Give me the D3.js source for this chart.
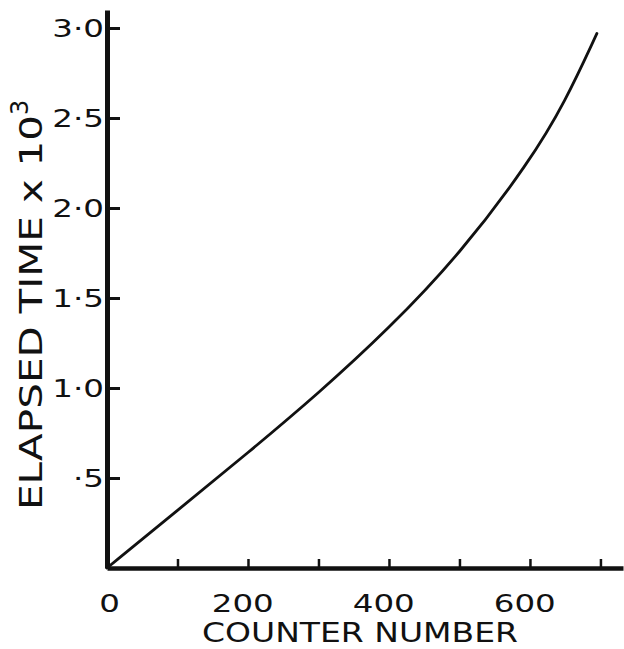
<!DOCTYPE html>
<html lang="en">
<head>
<meta charset="UTF-8">
<title>Elapsed time vs counter number</title>
<style>
  *{margin:0;padding:0}
  body{background:#fff;width:624px;height:649px;overflow:hidden}
  text{font-family:'DejaVu Sans',sans-serif;fill:#111}
  .axis path,.axis line{stroke:#111}
</style>
<script src="https://d3js.org/d3.v7.min.js"></script>
</head>
<body>
<div id="chart"></div>
<script>
/* ---------- DATA ---------- */
const counter = [0, 100, 200, 300, 400, 500, 600, 650, 695];
const elapsed = [0, 0.32, 0.64, 0.97, 1.33, 1.74, 2.26, 2.59, 2.97];
const xTicks  = [0, 100, 200, 300, 400, 500, 600, 700];
const xLabels = [0, 200, 400, 600];
const yTicks  = [0.5, 1.0, 1.5, 2.0, 2.5, 3.0];
const yLabels = ['·5', '1·0', '1·5', '2·0', '2·5', '3·0'];

/* ---------- SETUP ---------- */
const W = 624, H = 649;
const svg = d3.select('#chart').append('svg').attr('width', W).attr('height', H);

const x = d3.scaleLinear().domain([0, 732]).range([107, 623]);
const y = d3.scaleLinear().domain([0, 3.1]).range([568, 10]);

/* ---- x axis: ticks pointing up, labels below ---- */
const xAxis = svg.append('g').attr('class', 'axis').attr('transform', `translate(0,${y(0)})`)
  .call(d3.axisBottom(x).tickValues(xTicks).tickSizeInner(-9).tickSizeOuter(0).tickFormat(''));
xAxis.select('.domain').attr('stroke-width', 4.5);
xAxis.selectAll('.tick line').attr('stroke-width', 2.5);

svg.append('g').selectAll('text').data(xLabels).join('text')
  .attr('x', d => x(d) + (d === 0 ? 2 : -4))
  .attr('y', 612)
  .attr('text-anchor', 'middle')
  .attr('font-size', 25)
  .attr('transform', d => `translate(${x(d)},0) scale(1.3,1) translate(${-x(d)},0)`)
  .text(d => d);

/* ---- y axis: ticks pointing right, labels left ---- */
const yAxis = svg.append('g').attr('class', 'axis').attr('transform', `translate(${x(0)},0)`)
  .call(d3.axisLeft(y).tickValues(yTicks).tickSizeInner(-13).tickSizeOuter(0).tickFormat(''));
yAxis.select('.domain').attr('stroke-width', 5);
yAxis.selectAll('.tick line').attr('stroke-width', 3);

svg.append('g').selectAll('text').data(yTicks).join('text')
  .attr('x', 104)
  .attr('y', d => y(d))
  .attr('dy', '0.38em')
  .attr('text-anchor', 'end')
  .attr('font-size', 25)
  .attr('transform', 'translate(104,0) scale(1.3,1) translate(-104,0)')
  .text((d, i) => yLabels[i]);

/* ---- curve ---- */
const pts = counter.map((c, i) => [c, elapsed[i]]);
svg.append('path').datum(pts)
  .attr('fill', 'none').attr('stroke', '#111').attr('stroke-width', 2.8)
  .attr('stroke-linecap', 'round')
  .attr('d', d3.line().x(d => x(d[0])).y(d => y(d[1])).curve(d3.curveBasis));

/* ---- axis titles ---- */
svg.append('text')
  .attr('x', 360).attr('y', 642)
  .attr('text-anchor', 'middle')
  .attr('font-size', 27)
  .attr('textLength', 316).attr('lengthAdjust', 'spacingAndGlyphs')
  .text('COUNTER NUMBER');

const yt = svg.append('text')
  .attr('transform', 'translate(42,510) rotate(-90)')
  .attr('font-size', 32);
yt.append('tspan').attr('textLength', 395).attr('lengthAdjust', 'spacingAndGlyphs').text('ELAPSED TIME x 10');
yt.append('tspan').attr('dy', -14).attr('font-size', 24).text('3');
</script>
</body>
</html>
